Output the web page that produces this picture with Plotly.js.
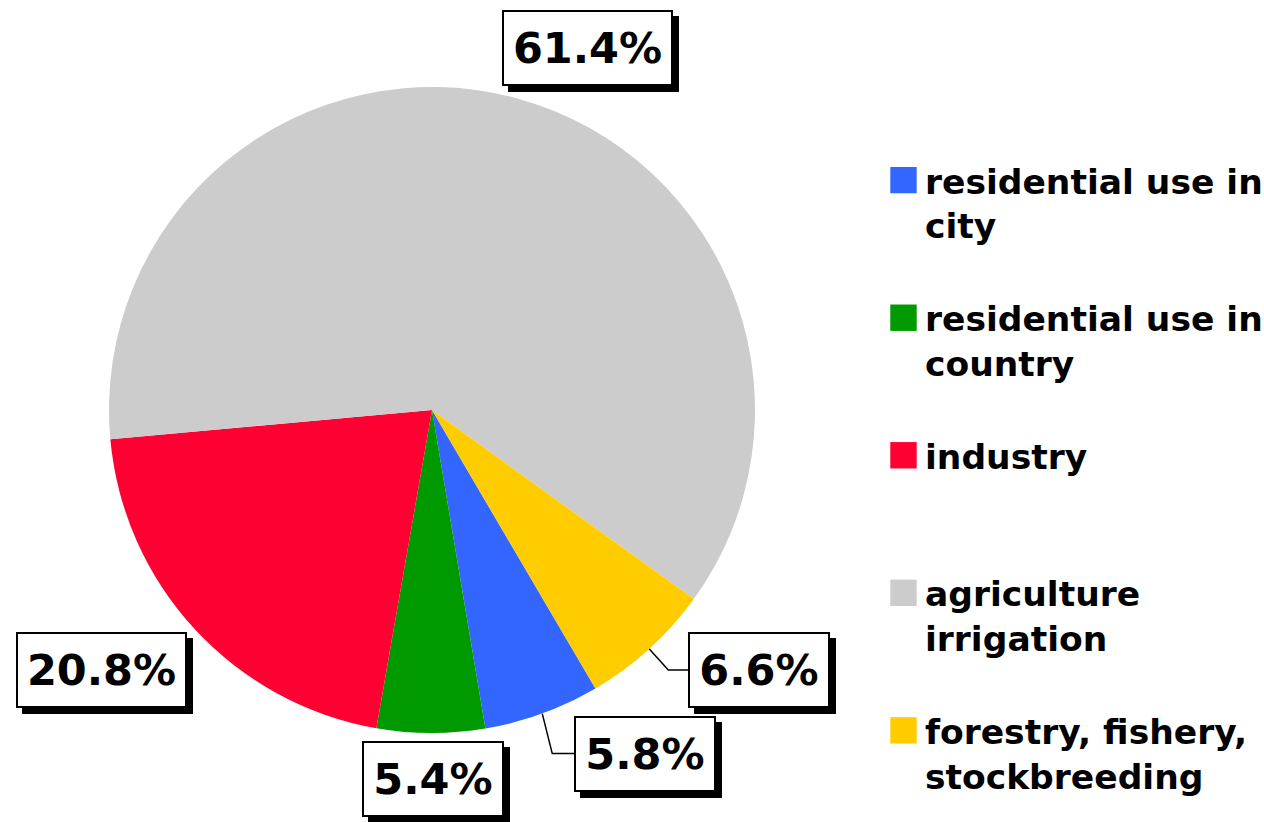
<!DOCTYPE html>
<html>
<head>
<meta charset="utf-8">
<script src="https://cdn.plot.ly/plotly-3.0.1.min.js"></script>
<style>html,body{margin:0;padding:0;background:#fff;}</style>
</head>
<body>
<div id="chart" style="width:1264px;height:822px;"></div>
<script>
// ---- data ----
const categories = [
  "residential use in<br>city<br>\u00a0",
  "residential use in<br>country<br>\u00a0",
  "industry<br>\u00a0<br>\u00a0",
  "agriculture<br>irrigation<br>\u00a0",
  "forestry, fishery,<br>stockbreeding"
];
const shares = [5.8, 5.4, 20.8, 61.4, 6.6];
const sliceColors = ["#3366ff", "#009900", "#ff0033", "#cccccc", "#ffcc00"];

// ---- label placement (pixel offsets from slice edge midpoint to box centre) ----
const labelOffsets = [[103, 40], [2, 46], [-93, 41], [70, -50], [110, 21]];
const leaderElbowDx = [10, null, null, null, 19];

const W = 1264, H = 822;
const domX = [109 / W, 755 / W];
const domY = [1 - 733 / H, 1 - 87 / H];
const rotation = 149.6;

// pie geometry derived from domain
const dw = (domX[1] - domX[0]) * W, dh = (domY[1] - domY[0]) * H;
const R = Math.min(dw, dh) / 2;
const cx = (domX[0] + domX[1]) / 2 * W;
const cy = (1 - (domY[0] + domY[1]) / 2) * H;

const total = shares.reduce((a, b) => a + b, 0);
const annotations = [];
const shapes = [];
const labelFont = {family: "DejaVu Sans", size: 43, color: "#000", weight: "bold"};
const boxH = 72;
let cum = 0;
shares.forEach((v, i) => {
  const mid = (rotation + (cum + v / 2) / total * 360) * Math.PI / 180;
  cum += v;
  const px = cx + R * Math.sin(mid);
  const py = cy - R * Math.cos(mid);
  const x = px / W, y = 1 - py / H;
  const txt = v.toFixed(1) + "%";
  const boxW = txt.length >= 5 ? 167 : 138;
  const [ox, oy] = labelOffsets[i];
  // shadow box
  annotations.push({
    xref: "paper", yref: "paper", x: x, y: y, text: "\u00a0",
    showarrow: false, xanchor: "center", yanchor: "middle",
    xshift: ox + 6, yshift: -(oy + 6), width: boxW, height: boxH,
    font: labelFont, bgcolor: "#000", bordercolor: "#000", borderwidth: 2, borderpad: 0
  });
  // main box
  annotations.push({
    xref: "paper", yref: "paper", x: x, y: y, text: txt,
    showarrow: false, xanchor: "center", yanchor: "middle",
    xshift: ox, yshift: -oy, width: boxW, height: boxH,
    font: labelFont, bgcolor: "#fff", bordercolor: "#000", borderwidth: 2, borderpad: 0
  });
  // elbow leader line
  if (leaderElbowDx[i] !== null) {
    const bx = px + ox, by = py + oy;
    const ex = px + leaderElbowDx[i];
    const leftEdge = bx - boxW / 2 - 2;
    const P = (a, b) => (a / W) + "," + (1 - b / H);
    shapes.push({
      type: "path", xref: "paper", yref: "paper",
      path: "M" + P(px, py) + " L" + P(ex, by) + " L" + P(leftEdge, by),
      line: {color: "#000", width: 1.5}
    });
  }
});

const data = [{
  type: "pie",
  labels: categories,
  values: shares,
  marker: {colors: sliceColors, line: {width: 0}},
  sort: false,
  direction: "clockwise",
  rotation: rotation,
  textinfo: "none",
  hoverinfo: "label+percent",
  domain: {x: domX, y: domY}
}];

const layout = {
  width: W, height: H,
  margin: {l: 0, r: 0, t: 0, b: 0, autoexpand: false},
  paper_bgcolor: "#fff",
  showlegend: true,
  legend: {
    x: 882 / W, y: 0.816, xanchor: "left", yanchor: "top",
    font: {family: "DejaVu Sans", size: 34.5, color: "#000", weight: "bold"},
    itemwidth: 33, valign: "top", bgcolor: "rgba(0,0,0,0)"
  },
  shapes: shapes,
  annotations: annotations
};

Plotly.newPlot("chart", data, layout, {displayModeBar: false, staticPlot: true}).then(gd => {
  gd.querySelectorAll(".legend path.legendpie").forEach(p => {
    const t = p.getAttribute("transform") || "";
    p.setAttribute("transform", t + " scale(2.2)");
  });
});
</script>
</body>
</html>
